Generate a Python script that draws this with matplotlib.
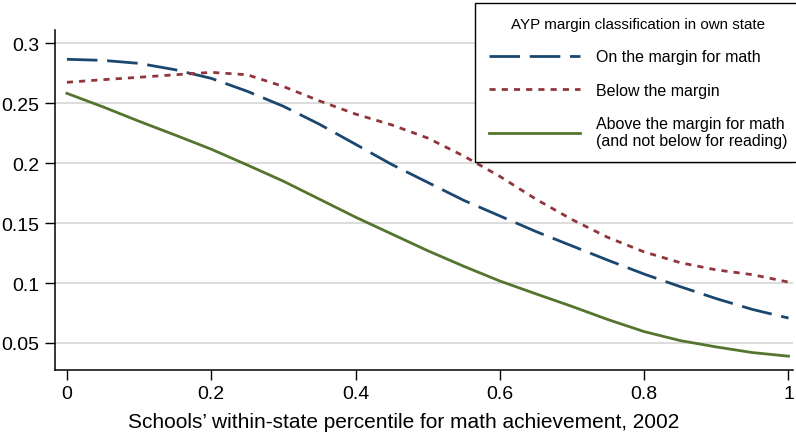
import numpy as np
import matplotlib.pyplot as plt

plt.rcParams["font.family"] = ["Liberation Sans", "DejaVu Sans"]

pctile = [0.0, 0.05, 0.1, 0.15, 0.2, 0.25, 0.3, 0.35, 0.4, 0.45, 0.5,
          0.55, 0.6, 0.65, 0.7, 0.75, 0.8, 0.85, 0.9, 0.95, 1.0]
on_margin = [0.2867, 0.2858, 0.2833, 0.278, 0.2708, 0.26, 0.2475, 0.2325, 0.2158, 0.199, 0.184,
             0.169, 0.156, 0.143, 0.131, 0.119, 0.1075, 0.097, 0.087, 0.078, 0.0708]
below = [0.2675, 0.2697, 0.2717, 0.2738, 0.2758, 0.2738, 0.264, 0.252, 0.241, 0.232, 0.221,
         0.206, 0.189, 0.17, 0.153, 0.138, 0.126, 0.117, 0.111, 0.107, 0.1008]
above = [0.2583, 0.247, 0.235, 0.2235, 0.2117, 0.1985, 0.185, 0.17, 0.155, 0.141, 0.127,
         0.114, 0.1017, 0.091, 0.0805, 0.0695, 0.0595, 0.052, 0.0467, 0.042, 0.039]

labels = ["On the margin for math", "Below the margin",
          "Above the margin for math\n(and not below for reading)"]
legend_title = "AYP margin classification in own state"

fig = plt.figure(figsize=(7.96, 4.39), dpi=100)
ax = fig.add_axes([0.069, 0.155, 0.927, 0.774])

ax.plot(pctile, on_margin, color="#1a476f", lw=2.0, dashes=(11, 3.5), label=labels[0])
ax.plot(pctile, below, color="#90353b", lw=2.0, dashes=(2.2, 2.2), label=labels[1])
ax.plot(pctile, above, color="#55752f", lw=2.0, label=labels[2])

ax.set_xlim(-0.0166, 1.006)
ax.set_ylim(0.0275, 0.311)
ax.set_xticks([0, 0.2, 0.4, 0.6, 0.8, 1])
ax.set_xticklabels(["0", "0.2", "0.4", "0.6", "0.8", "1"])
ax.set_yticks([0.05, 0.1, 0.15, 0.2, 0.25, 0.3])
ax.set_yticklabels(["0.05", "0.1", "0.15", "0.2", "0.25", "0.3"])
ax.tick_params(labelsize=14, length=7, width=1.0, direction="out", pad=4)
ax.grid(axis="y", color="#d6d6d6", lw=1.2)
ax.set_axisbelow(True)
for s in ["top", "right"]:
    ax.spines[s].set_visible(False)
ax.spines["left"].set_linewidth(1.1)
ax.spines["bottom"].set_linewidth(1.1)
ax.set_xlabel("Schools\u2019 within-state percentile for math achievement, 2002",
              fontsize=15)
ax.xaxis.set_label_coords(0.473, -0.125)

leg = ax.legend(title=legend_title, loc="upper right",
                bbox_to_anchor=(1.006, 0.99), bbox_transform=fig.transFigure,
                fontsize=11.5, title_fontsize=10.9, handlelength=5.7,
                fancybox=False, edgecolor="black", framealpha=1,
                borderpad=0.85, labelspacing=1.15, handletextpad=1.0,
                borderaxespad=0)
leg.get_frame().set_linewidth(1.0)

fig.savefig("out.png", dpi=100)
